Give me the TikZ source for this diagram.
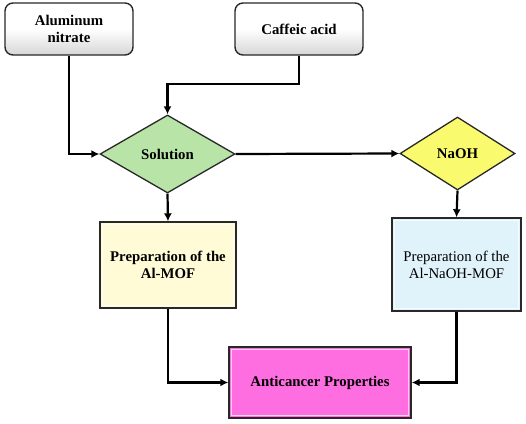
\documentclass[tikz,border=0pt]{standalone}
\usepackage{fontspec}
\setmainfont{Liberation Serif}
\usetikzlibrary{shapes.geometric,arrows.meta}
\definecolor{solgreen}{RGB}{185,228,168}
\definecolor{naohyellow}{RGB}{250,250,110}
\definecolor{mofcream}{RGB}{255,251,215}
\definecolor{nmofblue}{RGB}{224,242,250}
\definecolor{antipink}{RGB}{255,110,225}
\definecolor{edgegray}{RGB}{40,40,40}
\tikzset{
  txt/.style={font={\fontsize{14.8}{17}\selectfont\bfseries}, align=center, text=black},
  txtreg/.style={font={\fontsize{14.8}{17}\selectfont}, align=center, text=black},
  startbox/.style={draw=edgegray, line width=1.4pt, rounded corners=8pt, top color=white, bottom color=black!16, middle color=white, inner sep=0pt},
  dia/.style={diamond, draw=edgegray, line width=1.3pt, inner sep=0pt, aspect=1.7},
  procbox/.style={draw=edgegray, line width=1.4pt, inner sep=0pt},
  bevel/.style={draw=white, opacity=0.7, line width=1.5pt},
  arr/.style={draw=black, line width=2.2pt, -{Latex[length=8pt,width=8pt]}},
}
\begin{document}
\begin{tikzpicture}[x=1pt,y=-1pt]
\useasboundingbox (0,0) rectangle (526,423);
\fill[white] (0,0) rectangle (526,423);

\node[startbox, txt, minimum width=128pt, minimum height=52pt] (al) at (69,29) {Aluminum\\nitrate};
\node[startbox, txt, minimum width=128pt, minimum height=52pt] (caf) at (299,29) {Caffeic acid};

\node[dia, fill=solgreen, txt, minimum width=135pt, minimum height=78pt] (sol) at (167.5,154) {Solution};
\node[dia, fill=naohyellow, txt, minimum width=115pt, minimum height=73pt] (naoh) at (457.5,153.5) {NaOH};

\node[procbox, fill=mofcream, txt, minimum width=136pt, minimum height=86pt] (mof) at (168,265) {Preparation of the\\Al-MOF};
\node[procbox, fill=nmofblue, txtreg, minimum width=129pt, minimum height=93pt] (nmof) at (456.5,264.5) {Preparation of the\\Al-NaOH-MOF};
\node[procbox, fill=antipink, txt, minimum width=182pt, minimum height=71pt] (anti) at (320,382.5) {Anticancer Properties};

% bevel highlights
\draw[bevel] ([shift={(3,3)}]mof.north west) rectangle ([shift={(-3,-3)}]mof.south east);
\draw[bevel] ([shift={(3,3)}]nmof.north west) rectangle ([shift={(-3,-3)}]nmof.south east);
\draw[bevel] ([shift={(3,3)}]anti.north west) rectangle ([shift={(-3,-3)}]anti.south east);

% connectors
\draw[arr] (al.south) |- (sol.west);
\coordinate (cafturn) at (299,84);
\draw[arr] (caf.south) -- (cafturn) -| (sol.north);
\draw[arr] (sol.east) -- (naoh.west);
\draw[arr] (sol.south) -- (mof.north);
\draw[arr] (naoh.south) -- (nmof.north);
\draw[arr] (mof.south) |- (anti.west);
\draw[arr] (nmof.south) |- (anti.east);
\end{tikzpicture}
\end{document}
